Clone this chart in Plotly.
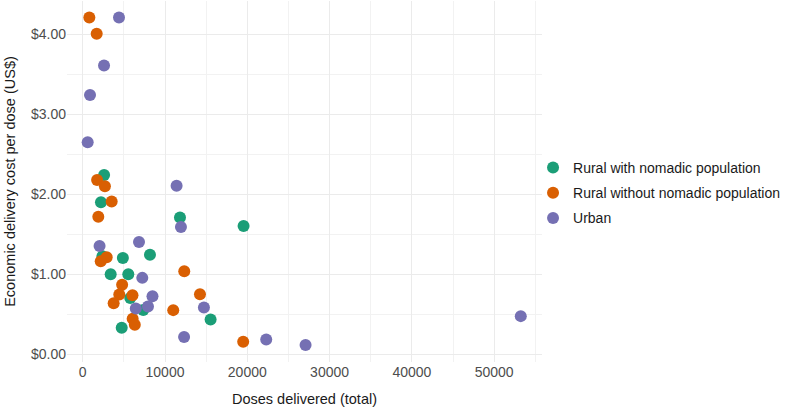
import plotly.graph_objects as go

# Rural with nomadic population
green_x = [2600, 2220, 11820, 19550, 8174, 4880, 2400, 3400, 5540, 5780, 7360, 15540, 4740]
green_y = [2.24, 1.90, 1.71, 1.605, 1.245, 1.205, 1.225, 1.00, 1.00, 0.705, 0.556, 0.436, 0.333]

# Rural without nomadic population
orange_x = [805, 1700, 1750, 2700, 3520, 1895, 2915, 2190, 12340, 4790, 6050, 4445, 3760,
            14250, 11000, 6070, 6330, 19500]
orange_y = [4.21, 4.006, 2.18, 2.10, 1.91, 1.72, 1.215, 1.165, 1.04, 0.87, 0.738, 0.748, 0.64,
            0.752, 0.553, 0.445, 0.37, 0.158]

# Urban
purple_x = [4410, 2590, 890, 605, 11410, 11940, 2050, 6840, 7240, 8480, 6450, 7930, 14730,
            12320, 22300, 27080, 53230]
purple_y = [4.21, 3.61, 3.24, 2.65, 2.107, 1.592, 1.355, 1.405, 0.956, 0.727, 0.574, 0.598, 0.586,
            0.218, 0.187, 0.118, 0.478]

names = ["Rural with nomadic population", "Rural without nomadic population", "Urban"]
colors = ["#1B9E77", "#D95F02", "#7570B3"]
xs = [green_x, orange_x, purple_x]
ys = [green_y, orange_y, purple_y]

fig = go.Figure()
for n, c, x, y in zip(names, colors, xs, ys):
    fig.add_trace(go.Scatter(
        x=x, y=y, mode="markers", name=n, legendgroup=n,
        marker=dict(color=c, size=12, line=dict(width=0)),
    ))

font = "Liberation Sans, Arial, sans-serif"
fig.update_layout(
    width=787, height=407,
    margin=dict(l=67, r=245, t=1, b=45, autoexpand=False),
    paper_bgcolor="white", plot_bgcolor="white",
    font=dict(family=font, size=14, color="#4D4D4D"),
    showlegend=True,
    legend=dict(
        xref="container", yref="container",
        x=0.6773, xanchor="left", y=0.5258, yanchor="middle",
        font=dict(family=font, size=14, color="#1A1A1A"),
        tracegroupgap=4, bgcolor="rgba(0,0,0,0)",
    ),
    xaxis=dict(
        range=[-1908, 55810], dtick=10000, tick0=0, tickformat="d",
        showgrid=True, gridcolor="#EBEBEB", gridwidth=1.1,
        minor=dict(showgrid=True, dtick=5000, tick0=0, gridcolor="#F2F2F2", gridwidth=0.6),
        zeroline=False, showline=False, ticks="", automargin=False,
        tickfont=dict(size=14, color="#4D4D4D"),
        title=dict(text="Doses delivered (total)", font=dict(size=14.5, color="#1A1A1A"), standoff=15),
    ),
    yaxis=dict(
        range=[-0.095, 4.415], dtick=1, tick0=0,
        tickprefix="$", tickformat=".2f",
        showgrid=True, gridcolor="#EBEBEB", gridwidth=1.1,
        minor=dict(showgrid=True, dtick=0.5, tick0=0, gridcolor="#F2F2F2", gridwidth=0.6),
        zeroline=False, showline=False, ticks="", automargin=False,
        tickfont=dict(size=14, color="#4D4D4D"),
        title=dict(text="Economic delivery cost per dose (US$)", font=dict(size=14.5, color="#1A1A1A"), standoff=11),
    ),
)

fig.write_html("out.html", config={"displayModeBar": False},
               post_script="document.body.style.margin='0';")
